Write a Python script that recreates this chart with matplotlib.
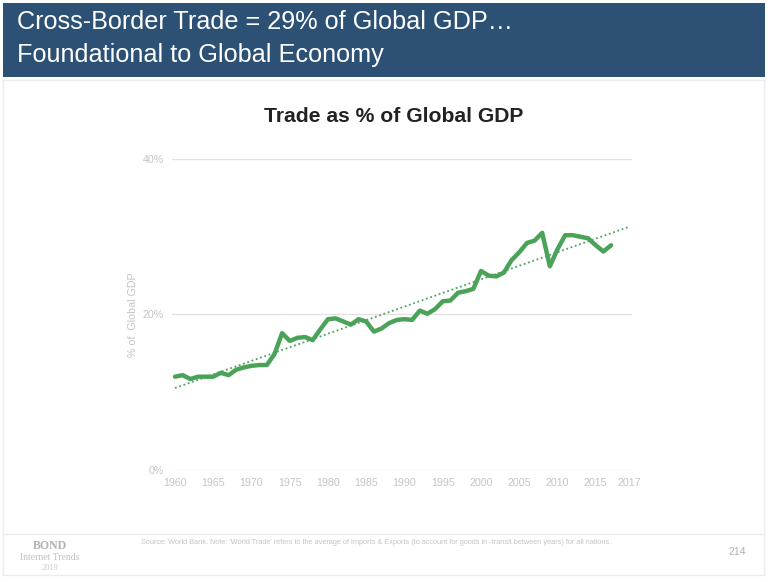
import numpy as np
import matplotlib.pyplot as plt
from matplotlib.patches import Rectangle
from matplotlib.lines import Line2D

# trade as % of global GDP
years = list(range(1960, 2018))
trade_pct = [12.0, 12.2, 11.7, 12.0, 12.0, 12.0, 12.5, 12.2, 12.9, 13.2,
             13.4, 13.5, 13.5, 14.9, 17.6, 16.6, 17.0, 17.1, 16.7, 18.1,
             19.4, 19.5, 19.1, 18.7, 19.4, 19.1, 17.8, 18.2, 18.9, 19.3,
             19.4, 19.3, 20.5, 20.1, 20.7, 21.7, 21.8, 22.8, 23.0, 23.3,
             25.6, 25.0, 24.9, 25.4, 27.0, 28.0, 29.2, 29.5, 30.5, 26.2,
             28.4, 30.2, 30.2, 30.0, 29.8, 28.9, 28.1, 28.9]
x_ticks = [1960, 1965, 1970, 1975, 1980, 1985, 1990, 1995, 2000, 2005, 2010, 2015]
x_labels = [str(y) for y in x_ticks] + ['2017']
y_ticks = [0, 20, 40]
y_labels = ['0%', '20%', '40%']

green = '#4ba35a'
grey = '#c4c4c4'
plt.rcParams['font.family'] = ['Liberation Sans', 'DejaVu Sans']

fig = plt.figure(figsize=(7.68, 5.82), dpi=100)
W, H = 768, 582

def fx(px):
    return px / W

def fy(py):
    return 1 - py / H

# slide frame + header band
fig.patches.append(Rectangle((fx(3), fy(575)), fx(761), fy(80) - fy(575),
                             transform=fig.transFigure, fill=False, edgecolor='#ececf2', lw=1))
fig.patches.append(Rectangle((fx(3), fy(77)), fx(762), fy(3) - fy(77),
                             transform=fig.transFigure, facecolor='#2c5175', edgecolor='none'))
fig.lines.append(Line2D([fx(3), fx(764)], [fy(534), fy(534)], transform=fig.transFigure,
                        color='#ececf0', lw=1))

fig.text(fx(17), fy(22), 'Cross-Border Trade = 29% of Global GDP…', color='white',
         fontsize=18.2, va='center', ha='left')
fig.text(fx(17), fy(55), 'Foundational to Global Economy', color='white',
         fontsize=18.2, va='center', ha='left')

fig.text(fx(394), fy(117), 'Trade as % of Global GDP', color='#222222',
         fontsize=15.2, fontweight='bold', ha='center', va='center')

# chart
ax = fig.add_axes([fx(172), fy(470), fx(632) - fx(172), fy(159) - fy(470)])
x_max = 1960 + (632 - 175) / 7.65
x_min = 1960 - 3 / 7.65
ax.set_xlim(x_min, x_max)
ax.set_ylim(0, 40)

coef = np.polyfit(years, trade_pct, 1)
trend_x = np.array([1960, 2019.3])
ax.plot(trend_x, np.polyval(coef, trend_x), color=green, lw=1.3, ls=(0, (1, 1.5)))
ax.plot(years, trade_pct, color=green, lw=3.2, solid_joinstyle='round', solid_capstyle='round')

ax.set_yticks(y_ticks)
ax.set_yticklabels(y_labels)
ax.set_xticks(x_ticks + [x_max - 0.3])
ax.set_xticklabels(x_labels)
ax.grid(axis='y', color='#e2e2e2', lw=1)
ax.set_axisbelow(True)
for s in ax.spines.values():
    s.set_visible(False)
ax.tick_params(length=0, labelsize=7.7, colors=grey, pad=6)
ax.tick_params(axis='y', pad=6)
ax.set_ylabel('% of  Global GDP', color=grey, fontsize=7.7, labelpad=3)

# footer
serif = ['Liberation Serif', 'DejaVu Serif']
fig.text(fx(50), fy(546), 'BOND', family=serif, fontweight='bold', color='#b0b0b0',
         fontsize=8.5, ha='center', va='center')
fig.text(fx(50), fy(557), 'Internet Trends', family=serif, color='#c0c0c0',
         fontsize=7, ha='center', va='center')
fig.text(fx(50), fy(568), '2019', family=serif, color='#c8c8c8',
         fontsize=6, ha='center', va='center')
fig.text(fx(141), fy(542), "Source: World Bank. Note: 'World Trade' refers to the average of Imports & Exports "
         "(to account for goods in -transit between years) for all nations.",
         color='#c4c4c4', fontsize=5.3, ha='left', va='center')
fig.text(fx(737), fy(552), '214', color='#b0b0b0', fontsize=7.5, ha='center', va='center')

fig.savefig('out.png', dpi=100)
